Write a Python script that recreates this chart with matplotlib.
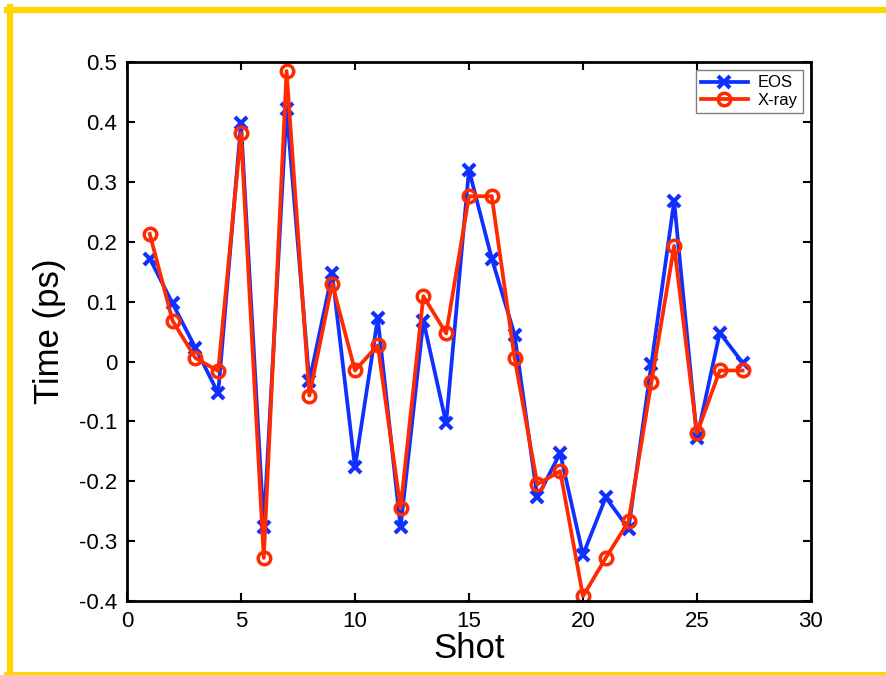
import matplotlib
matplotlib.use("Agg")
import matplotlib.pyplot as plt
from matplotlib.lines import Line2D

plt.rcParams['font.family'] = ['Liberation Sans', 'DejaVu Sans']

shots = list(range(1, 28))
eos = [0.172, 0.097, 0.023, -0.053, 0.398, -0.277, 0.422, -0.033, 0.147,
       -0.177, 0.072, -0.277, 0.068, -0.103, 0.320, 0.172, 0.045, -0.227,
       -0.153, -0.323, -0.227, -0.279, -0.005, 0.268, -0.128, 0.048, -0.002]
xray = [0.213, 0.068, 0.006, -0.016, 0.381, -0.328, 0.485, -0.057, 0.130,
        -0.015, 0.027, -0.245, 0.109, 0.047, 0.276, 0.276, 0.006, -0.205,
        -0.183, -0.392, -0.328, -0.267, -0.035, 0.193, -0.120, -0.015, -0.015]

fig = plt.figure(figsize=(8.86, 6.75), dpi=100)
ax = fig.add_axes([0.1433, 0.1096, 0.772, 0.7984])

ax.plot(shots, eos, color='#1030ff', lw=2.7, marker='x', ms=9, mew=3, label='EOS')
ax.plot(shots, xray, color='#ff2a00', lw=2.7, marker='o', ms=9, mew=2.5,
        mfc='none', label='X-ray')

ax.set_xlim(0, 30)
ax.set_ylim(-0.4, 0.5)
ax.set_xticks(range(0, 31, 5))
ax.set_yticks([-0.4, -0.3, -0.2, -0.1, 0, 0.1, 0.2, 0.3, 0.4, 0.5])
ax.set_yticklabels(['-0.4', '-0.3', '-0.2', '-0.1', '0', '0.1', '0.2', '0.3', '0.4', '0.5'])
ax.tick_params(direction='in', top=True, right=True, length=6, width=1.5,
               labelsize=16, pad=7)
for s in ax.spines.values():
    s.set_linewidth(2)

ax.set_xlabel('Shot', fontsize=25, labelpad=0)
ax.set_ylabel('Time (ps)', fontsize=25, labelpad=9)

leg = ax.legend(loc='upper right', fontsize=12, handlelength=2.8,
                borderaxespad=0.5, fancybox=False, framealpha=1,
                borderpad=0.3, labelspacing=0.15, handletextpad=0.6)
leg.get_frame().set_edgecolor('#808080')
leg.get_frame().set_linewidth(1)

# yellow frame around the figure
gold = '#ffd700'
fig.add_artist(Line2D([7 / 886, 1.0], [1 - 10 / 675] * 2, color=gold, lw=4.5,
                      transform=fig.transFigure))
fig.add_artist(Line2D([10 / 886] * 2, [0, 1 - 7 / 675], color=gold, lw=4.5,
                      transform=fig.transFigure))
fig.add_artist(Line2D([7 / 886, 1.0], [0, 0], color=gold, lw=5,
                      transform=fig.transFigure))

fig.savefig('out.png', dpi=100)
